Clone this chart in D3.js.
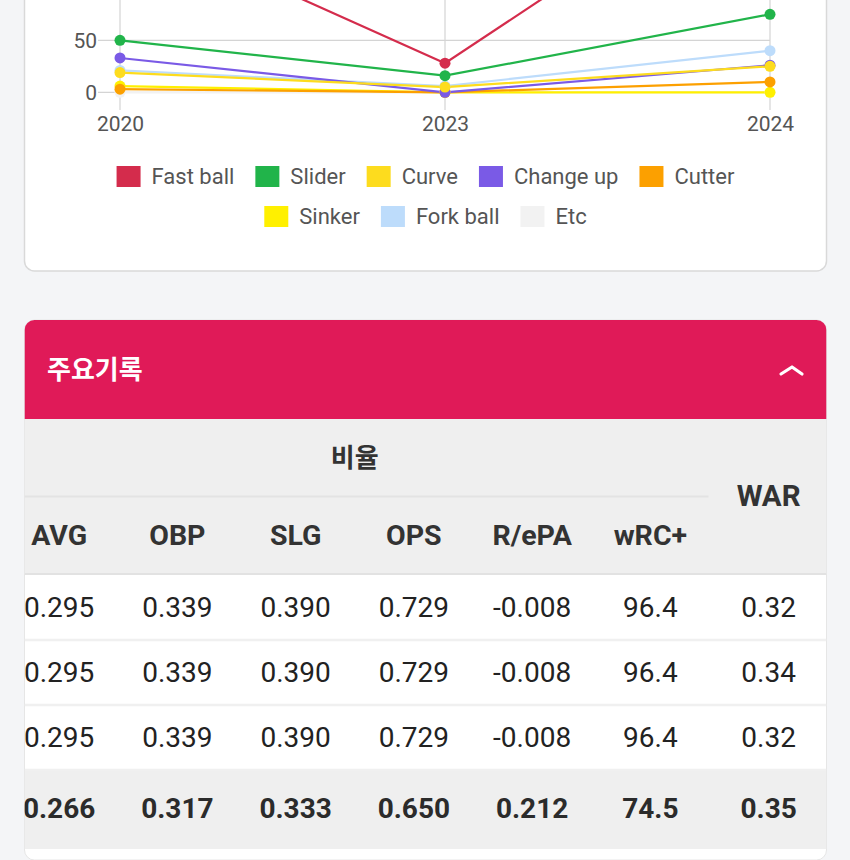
<!DOCTYPE html>
<html>
<head>
<meta charset="utf-8">
<script src="https://cdn.jsdelivr.net/npm/d3@7/dist/d3.min.js"></script>
<style>
  html, body { margin: 0; padding: 0; background: #f4f5f7; }
  svg { display: block; }
  text { font-family: Roboto, "Noto Sans", sans-serif; }
  .kr { font-family: "Noto Sans CJK KR", Roboto, sans-serif; }
</style>
</head>
<body>
<svg id="page" width="850" height="860"></svg>
<script>
// ---------- chart data ----------
const years = ["2020", "2023", "2024"];
const pitchTypes = ["Fast ball", "Slider", "Curve", "Change up", "Cutter", "Sinker", "Fork ball", "Etc"];
const pitchColors = ["#d42c4c", "#21b44a", "#fddc1e", "#7a5ae6", "#fca000", "#fff000", "#bddcfb", "#f2f2f2"];
const fastBall = [168, 28, 235];
const slider   = [50, 16, 75];
const curve    = [19, 5, 25];
const changeUp = [33, 0, 26];
const cutter   = [3, 0, 10];
const sinker   = [6, 0, 0];
const forkBall = [21, 6, 40];
const etc      = [0, 0, 0];
const yTicks = [0, 50];   // ticks visible in the picture (upper ones are scrolled out of view)

// ---------- table data ----------
const panelTitle = "주요기록";
const groupLabel = "비율";
const statColumns = ["AVG", "OBP", "SLG", "OPS", "R/ePA", "wRC+", "WAR"];
const groupedColumns = ["AVG", "OBP", "SLG", "OPS", "R/ePA", "wRC+"];
const row1 = ["0.295", "0.339", "0.390", "0.729", "-0.008", "96.4", "0.32"];
const row2 = ["0.295", "0.339", "0.390", "0.729", "-0.008", "96.4", "0.34"];
const row3 = ["0.295", "0.339", "0.390", "0.729", "-0.008", "96.4", "0.32"];
const totalRow = ["0.266", "0.317", "0.333", "0.650", "0.212", "74.5", "0.35"];

const seriesValues = [fastBall, slider, curve, changeUp, cutter, sinker, forkBall, etc];
const series = pitchTypes.map((name, i) => ({ name, color: pitchColors[i], values: seriesValues[i] }));

const svg = d3.select("#page");
svg.append("rect").attr("width", 850).attr("height", 860).attr("fill", "#f4f5f7");

// ---------- chart card ----------
const cardL = 24.5, cardR = 826.5;
svg.append("rect")
  .attr("x", cardL).attr("y", -200).attr("width", cardR - cardL).attr("height", 471)
  .attr("rx", 10).attr("fill", "#ffffff").attr("stroke", "#d9d9d9").attr("stroke-width", 1.5);

const x = d3.scalePoint().domain(years).range([120, 770]);
const y = d3.scaleLinear().domain([0, 250]).range([92.3, 92.3 - 260]);

const grid = svg.append("g");
grid.selectAll("line.h").data(yTicks).join("line")
  .attr("x1", 98).attr("x2", 770)
  .attr("y1", d => y(d)).attr("y2", d => y(d))
  .attr("stroke", "#d4d4d4").attr("stroke-width", 1.2);
grid.selectAll("line.v").data(years).join("line")
  .attr("x1", d => x(d)).attr("x2", d => x(d))
  .attr("y1", y(250)).attr("y2", 110)
  .attr("stroke", "#d4d4d4").attr("stroke-width", 1.2);

const yAxis = d3.axisLeft(y).tickValues(yTicks).tickSize(0).tickPadding(0);
const yg = svg.append("g").attr("transform", "translate(97,0)").call(yAxis);
yg.select(".domain").remove();
yg.selectAll("text").attr("font-size", 21).attr("fill", "#555").attr("font-family", "Roboto").attr("dy", "0.36em");

const xAxis = d3.axisBottom(x).tickSize(0).tickPadding(0);
const xg = svg.append("g").attr("transform", "translate(0,115)").call(xAxis);
xg.select(".domain").remove();
xg.selectAll("text").attr("font-size", 21).attr("fill", "#555").attr("font-family", "Roboto").attr("dy", "0.76em");

const line = d3.line().x((d, i) => x(years[i])).y(d => y(d));
const plot = svg.append("g");
const drawOrder = series.slice().reverse();
plot.selectAll("path.series").data(drawOrder).join("path")
  .attr("d", d => line(d.values))
  .attr("fill", "none").attr("stroke", d => d.color).attr("stroke-width", 2.2);
drawOrder.forEach(s => {
  plot.append("g").selectAll("circle").data(s.values).join("circle")
    .attr("cx", (d, i) => x(years[i])).attr("cy", d => y(d)).attr("r", 5.5)
    .attr("fill", s.color);
});

// legend
const legendRows = [series.slice(0, 5), series.slice(5)];
const legendY = [176.5, 216.5];
const boxW = 24, boxH = 21, boxGap = 11, itemGap = 21;
legendRows.forEach((rowItems, r) => {
  const g = svg.append("g");
  const items = rowItems.map(s => {
    const ig = g.append("g");
    ig.append("rect").attr("width", boxW).attr("height", boxH).attr("y", -boxH / 2).attr("fill", s.color);
    const t = ig.append("text").attr("x", boxW + boxGap).attr("y", 7.5)
      .attr("font-size", 22).attr("fill", "#555").text(s.name);
    return { ig, w: boxW + boxGap + t.node().getComputedTextLength() };
  });
  const total = d3.sum(items, d => d.w) + itemGap * (items.length - 1);
  let cx = 425.5 - total / 2;
  items.forEach(it => {
    it.ig.attr("transform", `translate(${cx},${legendY[r]})`);
    cx += it.w + itemGap;
  });
});

// ---------- table card ----------
const tTop = 320, headBottom = 419, theadBottom = 574;
svg.append("rect").attr("x", cardL).attr("y", tTop).attr("width", cardR - cardL).attr("height", 540)
  .attr("rx", 10).attr("fill", "#ffffff").attr("stroke", "#e6e6e6").attr("stroke-width", 1);

const defs = svg.append("defs");
defs.append("clipPath").attr("id", "cardClip").append("rect")
  .attr("x", cardL).attr("y", tTop).attr("width", cardR - cardL).attr("height", 560).attr("rx", 10);

const tg = svg.append("g").attr("clip-path", "url(#cardClip)");
// red header
tg.append("rect").attr("x", cardL).attr("y", tTop).attr("width", cardR - cardL).attr("height", headBottom - tTop)
  .attr("fill", "#e01a58");
tg.append("text").attr("class", "kr").attr("x", 47).attr("y", 379)
  .attr("font-size", 26).attr("font-weight", 700).attr("fill", "#ffffff").text(panelTitle);
tg.append("path").attr("d", "M781,374 L792,367 L802,374")
  .attr("fill", "none").attr("stroke", "#ffffff").attr("stroke-width", 3.2)
  .attr("stroke-linecap", "round").attr("stroke-linejoin", "round");

// thead
tg.append("rect").attr("x", cardL).attr("y", headBottom).attr("width", cardR - cardL)
  .attr("height", theadBottom - headBottom).attr("fill", "#efefef");

const col = d3.scaleBand().domain(statColumns).range([0, 827.75]);
const cc = c => col(c) + col.bandwidth() / 2;

const groupStart = col(groupedColumns[0]);
const groupEnd = col(groupedColumns[groupedColumns.length - 1]) + col.bandwidth();
tg.append("line").attr("x1", groupStart).attr("x2", groupEnd - 1).attr("y1", 496.5).attr("y2", 496.5)
  .attr("stroke", "#e3e3e3").attr("stroke-width", 2);
tg.append("text").attr("class", "kr").attr("x", (groupStart + groupEnd) / 2).attr("y", 467)
  .attr("text-anchor", "middle").attr("font-size", 26).attr("font-weight", 700).attr("fill", "#333")
  .text(groupLabel);
tg.selectAll("text.colhead").data(statColumns).join("text")
  .attr("x", d => cc(d)).attr("y", d => d === "WAR" ? 506 : 545)
  .attr("text-anchor", "middle").attr("font-size", d => d === "WAR" ? 29.5 : 28.5)
  .attr("font-weight", 700).attr("fill", "#333")
  .text(d => d);
tg.append("line").attr("x1", cardL).attr("x2", cardR).attr("y1", 574).attr("y2", 574)
  .attr("stroke", "#e2e2e2").attr("stroke-width", 2);

// body rows
const bodyRows = [
  { vals: row1, top: 575, bottom: 639, base: 617, bold: false },
  { vals: row2, top: 641, bottom: 704, base: 681.5, bold: false },
  { vals: row3, top: 706, bottom: 770, base: 747, bold: false },
  { vals: totalRow, top: 771, bottom: 849, base: 818, bold: true }
];
bodyRows.forEach((r, i) => {
  if (r.bold) {
    tg.append("rect").attr("x", cardL).attr("y", r.top).attr("width", cardR - cardL)
      .attr("height", r.bottom - r.top).attr("fill", "#efefef");
  }
  if (i > 0) {
    tg.append("line").attr("x1", cardL).attr("x2", cardR).attr("y1", r.top - 1).attr("y2", r.top - 1)
      .attr("stroke", "#f0f0f0").attr("stroke-width", 2.5);
  }
  tg.append("g").selectAll("text").data(r.vals).join("text")
    .attr("x", (d, j) => cc(statColumns[j])).attr("y", r.base)
    .attr("text-anchor", "middle").attr("font-size", 28)
    .attr("font-weight", r.bold ? 700 : 400).attr("fill", r.bold ? "#2b2b2b" : "#222")
    .text(d => d);
});
</script>
</body>
</html>
